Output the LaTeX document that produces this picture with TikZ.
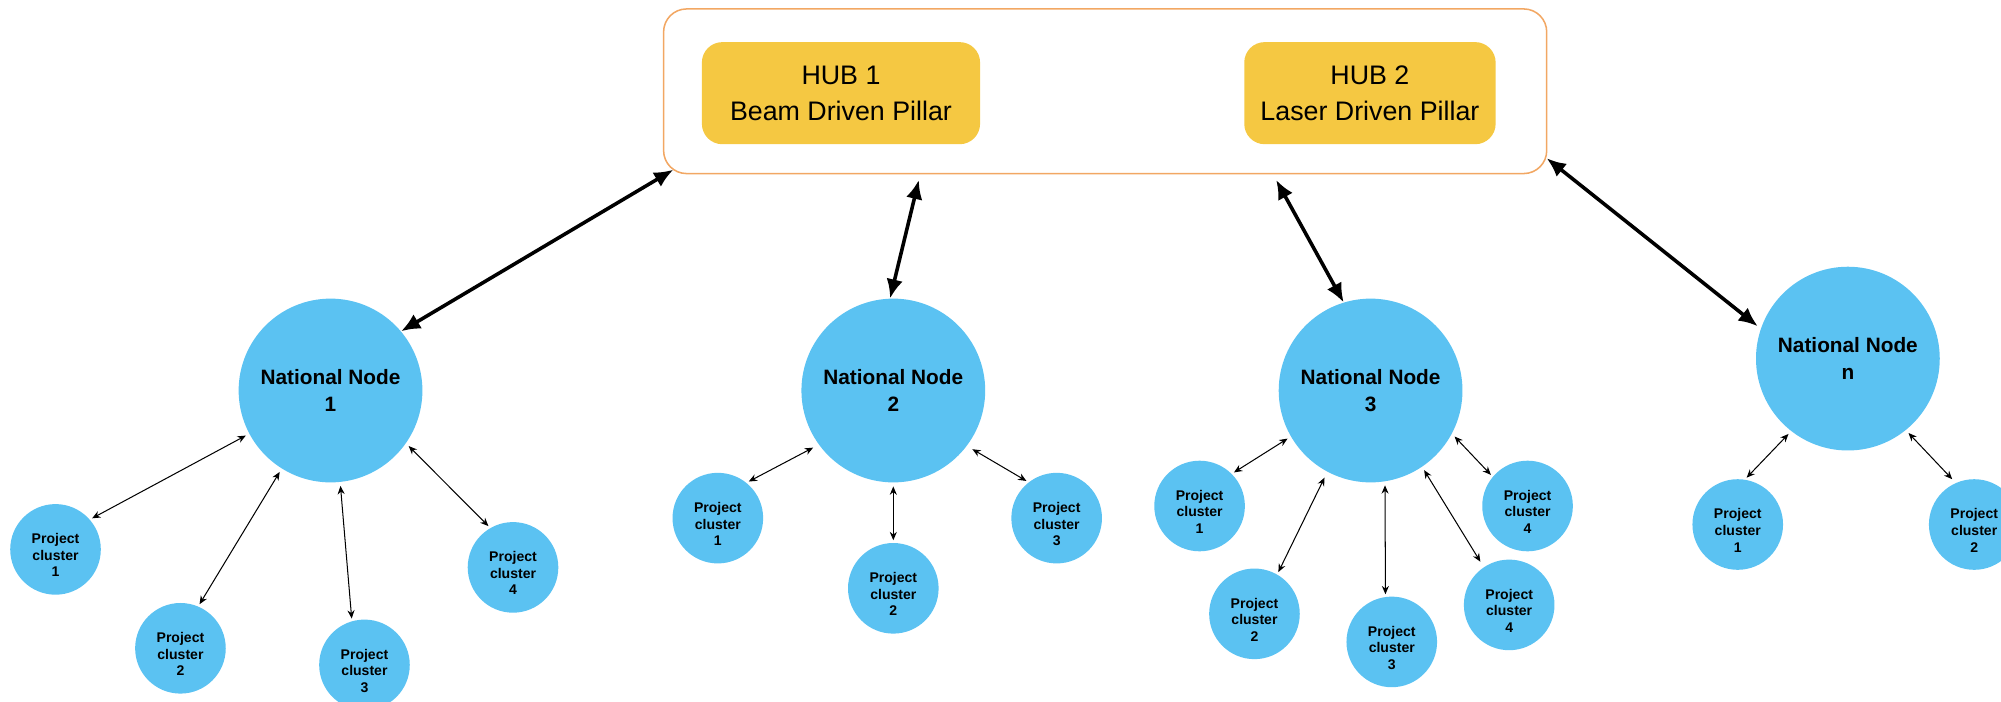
\documentclass[tikz,border=0pt]{standalone}
\usepackage{fontspec}
\setmainfont{Liberation Sans}
\usetikzlibrary{arrows.meta,calc}
\definecolor{nodeblue}{HTML}{5BC2F2}
\definecolor{hubyellow}{HTML}{F5C842}
\definecolor{frameorange}{HTML}{F2A763}
\newcommand\pclabel[1]{\raisebox{-6pt}[\height][\depth]{\begin{tabular}{@{}c@{}}Project\\cluster\\#1\end{tabular}}}
\begin{document}
\begin{tikzpicture}[x=1pt,y=-1pt,
 nat/.style={circle,fill=nodeblue,minimum size=144pt,inner sep=0pt,align=center,font=\bfseries\fontsize{16.3}{21}\selectfont},
 proj/.style={circle,fill=nodeblue,minimum size=71pt,inner sep=0pt,align=center,font=\bfseries\fontsize{11}{13}\selectfont},
 hubbox/.style={fill=hubyellow,rounded corners=16pt,align=center,font=\fontsize{21}{28}\selectfont},
 hublink/.style={line width=2.8pt,{Latex[length=15pt,width=13pt]}-{Latex[length=15pt,width=13pt]}},
 link/.style={line width=0.8pt,{Stealth[length=6.5pt,width=5.5pt]}-{Stealth[length=6.5pt,width=5.5pt]},shorten <=3pt,shorten >=2pt}
]
\useasboundingbox (0,0) rectangle (1568,550);
% hub frame
\node[draw=frameorange,line width=1.2pt,rounded corners=18pt,minimum width=692pt,minimum height=129pt] (frame) at (866,71.5) {};
\node[hubbox,minimum width=218pt,minimum height=80pt] (hub1) at (659,73) {HUB 1\\Beam Driven Pillar};
\node[hubbox,minimum width=197pt,minimum height=80pt] (hub2) at (1073.5,73) {HUB 2\\Laser Driven Pillar};
% national nodes
\node[nat] (nn1) at (259,306) {National Node\\1};
\node[nat] (nn2) at (700,306) {National Node\\2};
\node[nat] (nn3) at (1074,306) {National Node\\3};
\node[nat] (nnn) at (1448,281) {National Node\\n};
% project clusters
\node[proj] (p11) at (43.5,430.5) {\pclabel{1}};
\node[proj] (p12) at (141.4,508) {\pclabel{2}};
\node[proj] (p13) at (285.6,521) {\pclabel{3}};
\node[proj] (p14) at (402,444.6) {\pclabel{4}};
\node[proj] (p21) at (562.5,406) {\pclabel{1}};
\node[proj] (p22) at (700,461) {\pclabel{2}};
\node[proj] (p23) at (828,406) {\pclabel{3}};
\node[proj] (p31) at (940,396.5) {\pclabel{1}};
\node[proj] (p32) at (983,481) {\pclabel{2}};
\node[proj] (p33) at (1090.6,503) {\pclabel{3}};
\node[proj] (p34) at (1197,396.5) {\pclabel{4}};
\node[proj] (p35) at (1182.6,474) {\pclabel{4}};
\node[proj] (pn1) at (1361.7,411) {\pclabel{1}};
\node[proj] (pn2) at (1547,411) {\pclabel{2}};
% hub links
\coordinate (f1) at (527.6,133);
\coordinate (f2) at (720,141);
\coordinate (f3) at (1000,141);
\coordinate (f4) at (1212,124);
\draw[hublink] (f1) -- (nn1.40);
\draw[hublink] (f2) -- (nn2.92);
\draw[hublink] (f3) -- (nn3.107);
\draw[hublink,shorten >=3pt] (f4) -- (nnn.161);
% cluster links
\draw[link] (nn1.208) -- (p11.41);
\draw[link] (nn1.238) -- (p12.67);
\draw[link] (nn1.276) -- (p13.106);
\draw[link] (nn1.325) -- (p14.120);
\draw[link,shorten <=5pt] (nn2.216) -- (p21.51);
\draw[link] (nn2.270) -- (p22.90);
\draw[link,shorten <=5pt] (nn2.323) -- (p23.128);
\draw[link] (nn3.210) -- (p31.45);
\draw[link,shorten <=5pt] (nn3.242) -- (p32.60);
\draw[link] (nn3.279) -- (p33.98);
\draw[link] (nn3.332) -- (p34.140);
\draw[link,shorten >=5pt] (nn3.304) -- (p35.124);
\draw[link] (nnn.232) -- (pn1.81);
\draw[link,shorten >=4pt] (nnn.309) -- (pn2.114);
\end{tikzpicture}
\end{document}
